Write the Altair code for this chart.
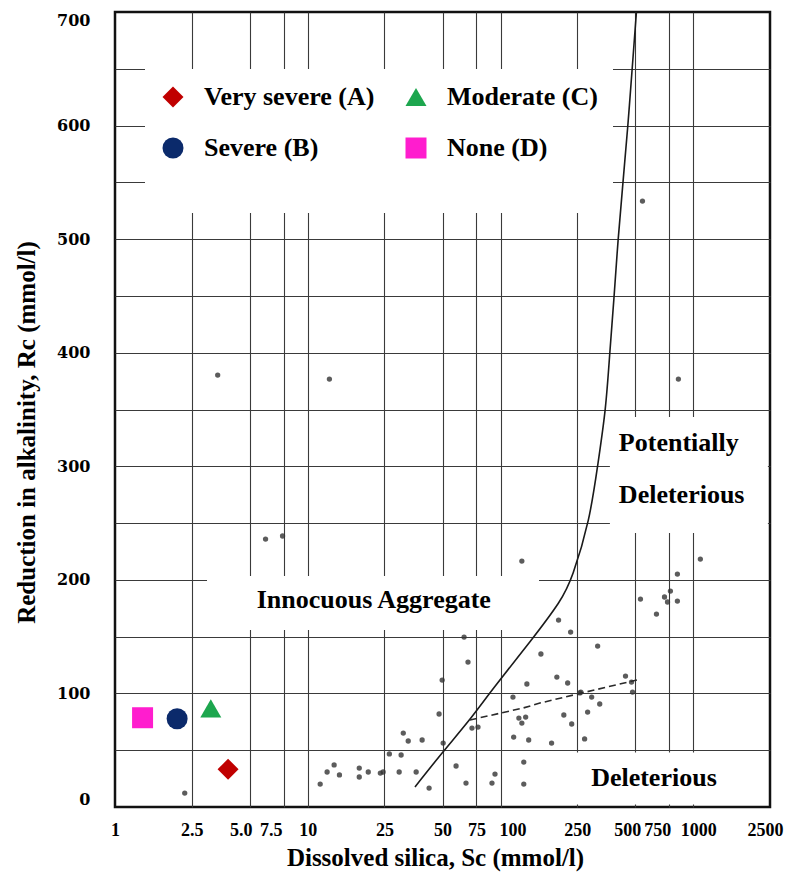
import altair as alt
import pandas as pd

# ---------------- data ----------------
X_TICKS = [1, 2.5, 5, 7.5, 10, 25, 50, 75, 100, 250, 500, 750, 1000, 2500]
Y_TICKS = list(range(0, 701, 50))

# boundary curve (solid)
CURVE_X = [36.0, 49.5, 69.4, 89.9, 145, 207.5, 234.6, 290.9, 320.1, 352.1,
           369.3, 387.5, 406.4, 431.4, 458.0, 483.3, 507.0]
CURVE_Y = [17.6, 47.5, 76.6, 103.0, 147.0, 182.2, 200.7, 252.6, 302.8, 349.5,
           402.3, 446.3, 499.1, 549.3, 599.5, 653.2, 700]

# dashed line
DASH_X = [69.4, 130.7, 160, 264, 510]
DASH_Y = [76.6, 87.1, 91.5, 100.4, 111.8]

# scanned test points (small dots)
DOT_X = [64.7, 67.8, 49.8, 48.0, 31.3, 33.2, 39.2, 50.4, 30.5, 26.5,
         29.8, 24.6, 36.5, 42.6, 58.8, 66.2, 71.1, 76.4, 90.3, 93.6,
         132, 132, 117, 140, 124.5, 135, 129, 116, 137, 162,
         200, 231, 319, 196, 223, 213, 234, 184, 273, 283,
         258, 297, 327, 445, 478, 1088, 827, 761, 709, 735,
         827, 532, 644, 484, 261, 2.30, 11.6, 12.6, 13.7, 14.6,
         18.5, 18.5, 20.6, 23.8, 3.41, 12.95, 837, 6.04, 7.40, 129,
         545]
DOT_Y = [149.6, 127.6, 111.8, 81.9, 65.1, 58.1, 59.0, 56.3, 45.8, 46.7,
         30.8, 30.8, 30.8, 16.7, 36.1, 21.1, 69.5, 70.4, 21.1, 29.0,
         39.6, 20.2, 61.6, 59.0, 78.3, 79.2, 73.9, 96.8, 108.3, 134.7,
         164.6, 154.0, 141.7, 114.4, 109.2, 81.0, 73.1, 56.3, 59.9, 83.6,
         100.4, 96.8, 90.7, 115.3, 110.0, 218.3, 205.1, 190.1, 184.9, 180.5,
         181.3, 183.1, 169.9, 101.2, 101.2, 12.3, 20.2, 30.8, 37.0, 28.2,
         34.3, 26.4, 30.8, 29.9, 380.3, 376.8, 376.8, 235.9, 238.6, 216.5,
         533.5]

# coloured classification markers
CLASSES = ["Very severe (A)", "Severe (B)", "Moderate (C)", "None (D)"]
CLASS_X = [3.86, 2.10, 3.14, 1.39]
CLASS_Y = [33.2, 77.7, 86.9, 78.6]
CLASS_COLORS = ["#C00000", "#0B2A6B", "#1DA64E", "#FF1DCE"]
CLASS_SHAPES = ["diamond", "circle", "triangle-up", "square"]

# region annotations
CENTER_TEXT = ["Innocuous Aggregate", "Deleterious"]
CENTER_X = [22.0, 625]
CENTER_Y = [182.2, 25.5]
LEFT_TEXT = ["Potentially", "Deleterious"]
LEFT_X = [411, 411]
LEFT_Y = [320.4, 274.6]

# white label backgrounds (centre in data units, size in px)
BOX_X = [21.8, 949, 747]
BOX_Y = [179.6, 292.3, 25.1]
BOX_W = [332, 158, 196]
BOX_H = [54, 116, 52]

# ---------------- chart ----------------
SERIF = "Liberation Serif"
xscale = alt.Scale(type="log", domain=[1, 2500], nice=False)
yscale = alt.Scale(domain=[0, 700], nice=False, zero=False)

x_axis = alt.Axis(
    values=X_TICKS, format="~g",
    labelExpr="datum.value == 5 ? '5.0' : datum.label",
    title="Dissolved silica, Sc (mmol/l)",
    grid=True, gridColor="#3a3a3a", gridWidth=1.1,
    gridOpacity={"condition": {"test": "datum.value == 1 || datum.value == 2500", "value": 0}, "value": 1},
    ticks=False, domain=False,
    labelFont=SERIF, labelFontSize=18, labelFontWeight="bold", labelColor="black",
    labelPadding=14, labelOverlap=False, labelFlush=False,
    labelOffset={"condition": [
        {"test": "datum.value == 5", "value": -9},
        {"test": "datum.value == 7.5", "value": -13},
        {"test": "datum.value == 100", "value": 12},
        {"test": "datum.value == 500", "value": -8},
        {"test": "datum.value == 750", "value": -12},
        {"test": "datum.value == 1000", "value": 5},
        {"test": "datum.value == 2500", "value": -5},
    ], "value": 0},
    titleFont=SERIF, titleFontSize=25, titleFontWeight="bold", titleColor="black",
    titlePadding=6, titleX=320, titleAlign="center",
)
y_axis = alt.Axis(
    values=Y_TICKS,
    labelExpr="datum.value % 100 == 0 ? datum.label : ''",
    title="Reduction in alkalinity, Rc (mmol/l)",
    grid=True, gridColor="#3a3a3a", gridWidth=1.1,
    gridOpacity={"condition": {"test": "datum.value == 0 || datum.value == 700", "value": 0}, "value": 1},
    ticks=False, domain=False,
    labelFont="DejaVu Serif", labelFontSize=16, labelFontWeight="bold", labelColor="black",
    labelPadding=25, labelFlush=True,
    titleFont=SERIF, titleFontSize=25, titleFontWeight="bold", titleColor="black",
    titlePadding=17, titleY=420,
)


def X(field):
    return alt.X(f"{field}:Q", scale=xscale, axis=x_axis)


def Y(field):
    return alt.Y(f"{field}:Q", scale=yscale, axis=y_axis)


layers = []

# white backgrounds behind region labels
for bx, by, bw, bh in zip(BOX_X, BOX_Y, BOX_W, BOX_H):
    r = bh / bw
    path = f"M-1,{-r:.4f}H1V{r:.4f}H-1Z"
    layers.append(
        alt.Chart(pd.DataFrame({"sx": [bx], "ry": [by]}))
        .mark_point(shape=path, size=bw * bw, filled=True, fill="white",
                    strokeWidth=0, opacity=1)
        .encode(x=X("sx"), y=Y("ry"))
    )

dots = alt.Chart(pd.DataFrame({"sx": DOT_X, "ry": DOT_Y})).mark_circle(
    size=28, color="#333333", opacity=0.8
).encode(x=X("sx"), y=Y("ry"))
layers.append(dots)

curve_df = pd.DataFrame({"sx": CURVE_X, "ry": CURVE_Y, "o": range(len(CURVE_X))})
layers.append(
    alt.Chart(curve_df).mark_line(color="#1a1a1a", strokeWidth=1.6, interpolate="basis")
    .encode(x=X("sx"), y=Y("ry"), order="o:Q")
)
dash_df = pd.DataFrame({"sx": DASH_X, "ry": DASH_Y, "o": range(len(DASH_X))})
layers.append(
    alt.Chart(dash_df).mark_line(color="#2a2a2a", strokeWidth=1.6, strokeDash=[7, 4])
    .encode(x=X("sx"), y=Y("ry"), order="o:Q")
)

legend = alt.Legend(
    orient="none", legendX=30, legendY=57, columns=2,
    fillColor="white", padding=15,
    title=" ", titleOrient="bottom", titleFontSize=25, titlePadding=12,
    labelFont=SERIF, labelFontSize=26, labelFontWeight="bold", labelColor="black",
    labelLimit=0, symbolSize=441, symbolStrokeWidth=0, symbolOpacity=1,
    labelOffset=18, columnPadding=28, rowPadding=25,
)
cls_df = pd.DataFrame({"sx": CLASS_X, "ry": CLASS_Y, "cls": CLASSES})
layers.append(
    alt.Chart(cls_df).mark_point(filled=True, size=441, opacity=1, strokeWidth=0)
    .encode(
        x=X("sx"), y=Y("ry"),
        color=alt.Color("cls:N", scale=alt.Scale(domain=CLASSES, range=CLASS_COLORS), legend=legend),
        shape=alt.Shape("cls:N", scale=alt.Scale(domain=CLASSES, range=CLASS_SHAPES), legend=legend),
    )
)

layers.append(
    alt.Chart(pd.DataFrame({"sx": CENTER_X, "ry": CENTER_Y, "t": CENTER_TEXT}))
    .mark_text(font=SERIF, fontSize=26, fontWeight="bold", color="black",
               align="center", baseline="middle")
    .encode(x=X("sx"), y=Y("ry"), text="t:N")
)
layers.append(
    alt.Chart(pd.DataFrame({"sx": LEFT_X, "ry": LEFT_Y, "t": LEFT_TEXT}))
    .mark_text(font=SERIF, fontSize=26, fontWeight="bold", color="black",
               align="left", baseline="middle")
    .encode(x=X("sx"), y=Y("ry"), text="t:N")
)

chart = (
    alt.layer(*layers)
    .properties(
        width=655, height=795,
        padding={"left": 107, "top": 4, "right": 16, "bottom": 69},
        autosize=alt.AutoSizeParams(type="none"),
        background="white",
    )
    .configure_view(stroke="#111111", strokeWidth=2.5)
)

chart.save("out.html", embed_options={"renderer": "svg", "actions": False})
